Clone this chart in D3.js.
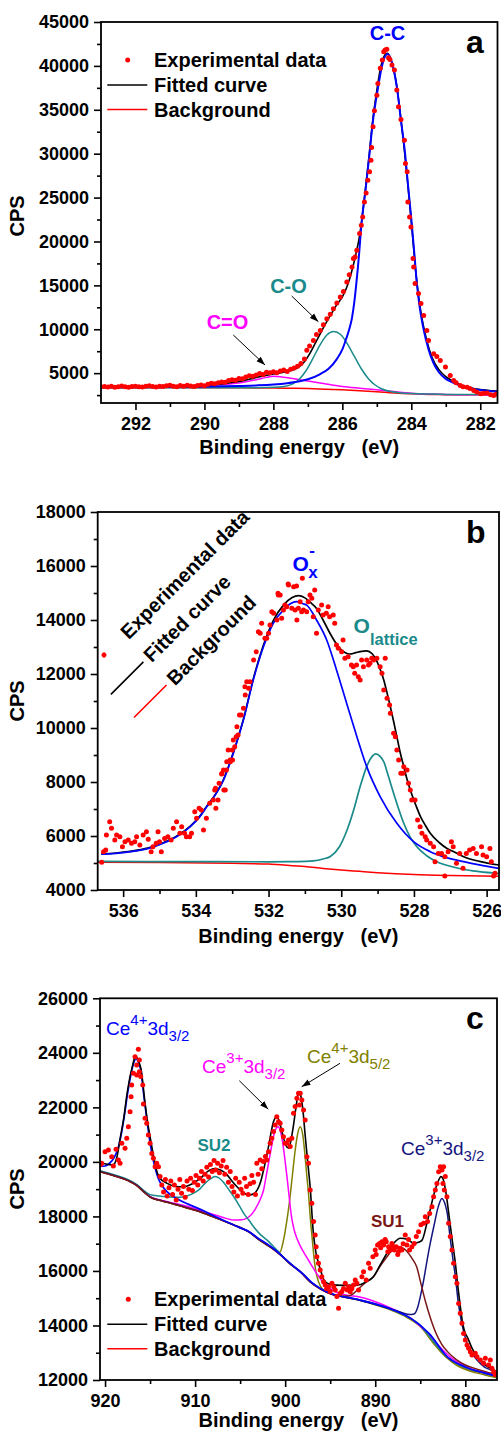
<!DOCTYPE html>
<html>
<head>
<meta charset="utf-8">
<script src="https://cdn.jsdelivr.net/npm/d3@7"></script>
<style>
  body { margin: 0; background: #fff; }
  svg { display: block; }
  text { font-family: "Liberation Sans", Arial, sans-serif; }
</style>
</head>
<body>
<svg id="chart" width="501" height="1433"></svg>
<script>
// ---------- panel a : C 1s ----------
const aXTicks = [292, 290, 288, 286, 284, 282]
const aXMinor = [291, 289, 287, 285, 283]
const aYTicks = [5000, 10000, 15000, 20000, 25000, 30000, 35000, 40000, 45000]
const aYMinor = [2500, 7500, 12500, 17500, 22500, 27500, 32500, 37500, 42500]

const aExp = [
  [293.0,3450],[292.9,3480],[292.8,3420],[292.7,3510],[292.6,3400],[292.5,3460],[292.4,3530],[292.3,3440],[292.2,3390],[292.1,3470],
  [292.0,3520],[291.9,3450],[291.8,3410],[291.7,3500],[291.6,3560],[291.5,3470],[291.4,3430],[291.3,3520],[291.2,3480],[291.1,3560],
  [291.0,3620],[290.9,3500],[290.8,3450],[290.7,3580],[290.6,3520],[290.5,3610],[290.4,3540],[290.3,3490],[290.2,3600],[290.1,3650],
  [290.0,3560],[289.9,3750],[289.8,3850],[289.7,3780],[289.6,3900],[289.5,4000],[289.4,3950],[289.3,4150],[289.2,4250],[289.1,4200],
  [289.0,4400],[288.9,4350],[288.8,4550],[288.7,4700],[288.6,4650],[288.5,4800],[288.4,4950],[288.3,4850],[288.2,5100],[288.1,5050],
  [288.0,5150],[287.9,5050],[287.8,5250],[287.7,5350],[287.6,5200],[287.5,5450],[287.4,5600],[287.3,5800],[287.2,6100],[287.1,6600],
  [287.03,7600],[286.95,8100],[286.84,8730],[286.75,9400],[286.64,9870],[286.55,10500],[286.45,11200],[286.35,11700],[286.26,12350],
  [286.16,13000],[286.06,13670],[285.97,14300],[285.87,15380],[285.8,16200],[285.72,17090],[285.68,18050],[285.63,18230],
  [285.58,19000],[285.5,20900],[285.45,21850],[285.41,22800],[285.36,24500],[285.31,25530],[285.26,26980],[285.21,27930],
  [285.17,29260],[285.15,30710],[285.11,33060],[285.07,34890],[285.0,36670],[284.97,38000],[284.9,39720],[284.84,40670],
  [284.8,41610],[284.76,41810],[284.71,41890],[284.66,40930],[284.62,40740],[284.56,40100],[284.49,39530],[284.42,37240],
  [284.37,35340],[284.3,33900],[284.2,31540],[284.17,28890],[284.12,27930],[284.1,24500],[284.05,22800],[284.01,21650],
  [283.95,18050],[283.93,17090],[283.89,15200],[283.79,14060],[283.72,12920],[283.64,11580],[283.55,9870],[283.5,8730],
  [283.35,7220],[283.26,6910],[283.16,6450],[283.01,5690],[282.87,4740],[282.77,4170],[282.7,3900],[282.58,3600],[282.5,3450],
  [282.38,3400],[282.3,3250],[282.19,3030],[282.1,2850],[281.99,2650],[281.9,2700],[281.8,2730],[281.7,2550],[281.61,2460],[281.55,2600]
]
const aFit = [
  [293,3420],[291,3470],[290,3600],[289.5,3780],[289,4050],[288.5,4500],[288,4900],[287.6,5200],[287.3,5600],[287.1,6300],
  [286.95,7200],[286.8,8300],[286.64,9500],[286.45,10900],[286.3,11900],[286.16,12800],[286.0,13700],[285.9,14500],[285.8,15600],
  [285.7,17000],[285.6,18700],[285.52,20200],[285.45,22000],[285.33,26000],[285.22,29900],[285.12,33700],[285.0,37200],
  [284.9,39600],[284.8,41000],[284.69,41430],[284.58,40600],[284.45,38400],[284.33,34900],[284.22,31100],[284.12,27300],
  [284.03,23500],[283.95,20000],[283.87,16500],[283.78,13500],[283.68,11000],[283.55,8700],[283.4,6800],[283.2,5400],
  [283.0,4600],[282.77,4050],[282.5,3550],[282.19,3250],[281.8,3050],[281.5,2950]
]
const aBg = [
  [293,3380],[291,3360],[289,3330],[288,3300],[287.5,3280],[287,3240],[286.5,3180],[286,3100],[285.5,3000],[285,2880],
  [284.5,2740],[284,2640],[283.5,2580],[283,2550],[282,2530],[281.5,2520]
]
const aCC = [
  [293,3380],[291,3420],[290,3460],[289,3540],[288.5,3600],[288,3700],[287.6,3850],[287.2,4100],[287.0,4300],[286.64,4900],
  [286.4,5500],[286.16,6600],[286.0,7700],[285.89,8900],[285.8,10000],[285.72,11300],[285.65,13200],[285.6,15000],[285.52,18300],
  [285.45,21800],[285.33,25800],[285.22,29700],[285.12,33500],[284.97,37400],[284.85,40000],[284.69,41350],[284.55,40200],
  [284.42,37600],[284.3,33800],[284.18,30000],[284.1,26600],[284.0,22600],[283.92,19000],[283.84,15300],[283.76,12600],
  [283.66,10300],[283.5,7700],[283.35,6100],[283.2,5100],[283.0,4350],[282.77,3900],[282.5,3500],[282.19,3200],[281.8,3000],[281.5,2880]
]
const aCO = [
  [293,3330],[290,3330],[288.5,3350],[288,3380],[287.7,3480],[287.45,3750],[287.25,4300],[287.05,5300],[286.85,6700],
  [286.65,8200],[286.45,9350],[286.25,9750],[286.05,9400],[285.85,8300],[285.65,6900],[285.45,5500],[285.25,4400],
  [285.05,3650],[284.85,3200],[284.6,2900],[284.3,2750],[284.0,2680],[283.5,2620],[283,2580],[281.5,2560]
]
const aCdO = [
  [293,3400],[291,3420],[290.5,3460],[290,3560],[289.5,3700],[289,3880],[288.5,4250],[288.2,4520],[288,4650],[287.8,4600],
  [287.5,4420],[287.2,4220],[287,4100],[286.6,3850],[286.3,3650],[286,3480],[285.5,3280],[285,3100],[284.5,2900],[284,2720],
  [283.5,2620],[283,2560],[282,2530],[281.5,2520]
]

// ---------- panel b : O 1s ----------
const bXTicks = [536, 534, 532, 530, 528, 526]
const bXMinor = [535, 533, 531, 529, 527]
const bYTicks = [4000, 6000, 8000, 10000, 12000, 14000, 16000, 18000]
const bYMinor = [5000, 7000, 9000, 11000, 13000, 15000, 17000]

const bExp = [
  [536.59,5025],[536.54,5418],[536.48,5480],[536.46,6036],[536.37,6530],[536.32,6284],[536.23,5850],[536.18,6036],[536.09,5973],
  [536.02,5603],[535.95,5788],[535.86,5850],[535.77,5727],[535.68,5788],[535.63,5973],[535.54,5665],[535.45,6036],[535.36,6158],
  [535.31,5876],[535.23,5418],[535.18,5603],[535.09,5727],[535.04,6158],[535.0,5788],[534.95,5418],[534.86,5912],[534.77,5973],
  [534.68,5850],[534.62,6284],[534.53,6530],[534.44,6099],[534.39,6344],[534.31,6099],[534.26,5973],[534.17,5973],[534.12,6099],
  [534.03,6900],[533.98,6654],[533.91,7024],[533.85,6962],[533.79,6222],[533.71,6654],[533.62,7210],[533.52,7333],[533.48,7703],
  [533.46,7765],[533.45,7024],[533.39,7333],[533.36,7951],[533.29,8296],[533.28,8321],[533.24,8444],[533.23,7703],[533.19,7703],
  [533.16,8444],[533.15,8751],[533.11,9185],[533.06,8814],[533.05,8751],[533.0,9185],[532.99,8814],[532.97,9556],[532.93,9308],
  [532.89,9679],[532.87,10049],[532.84,9740],[532.8,10481],[532.75,10481],[532.69,10728],[532.65,11530],[532.64,11222],
  [532.6,11715],[532.55,11469],[532.51,11715],[532.41,12518],[532.34,12826],[532.28,13567],[532.23,13507],[532.19,13877],
  [532.1,13322],[532.05,13322],[532.0,13507],[531.96,13815],[531.91,14308],[531.86,14247],[531.77,14000],[531.74,14988],
  [531.73,14926],[531.68,14926],[531.64,14062],[531.59,14370],[531.55,14555],[531.5,14493],[531.46,15333],[531.45,15296],
  [531.36,14433],[531.31,15234],[531.27,14370],[531.23,15259],[531.22,14000],[531.18,14433],[531.13,14678],[531.09,14308],
  [531.07,15543],[531.04,14370],[530.95,14308],[530.91,14678],[530.86,14926],[530.81,14802],[530.77,14122],[530.73,15111],
  [530.68,13507],[530.63,14370],[530.54,14555],[530.5,14185],[530.41,14247],[530.36,14493],[530.32,14122],[530.22,14185],
  [530.18,13877],[530.13,13074],[530.08,12951],[529.99,12826],[529.95,13259],[529.9,12580],[529.81,12641],[529.72,12333],
  [529.67,12271],[529.63,12025],[529.58,12333],[529.53,11900],[529.48,11777],[529.44,12518],[529.39,12271],[529.3,12518],
  [529.25,12333],[529.21,12395],[529.16,12580],[529.11,12518],[529.02,12580],[528.93,12271],[528.88,12025],[528.83,11407],
  [528.79,12580],[528.74,11099],[528.67,10852],[528.65,10543],[528.56,9803],[528.51,9679],[528.47,9185],[528.42,8814],
  [528.36,8321],[528.3,8321],[528.28,8566],[528.19,8444],[528.15,7951],[528.1,7703],[528.06,7333],[527.97,7333],[527.9,6592],
  [527.83,6344],[527.78,6099],[527.69,5973],[527.65,5850],[527.55,5727],[527.46,5603],[527.42,5048],[527.33,5356],[527.24,5356],
  [527.15,5233],[527.15,4517],[527.06,5418],[526.97,5788],[526.92,5603],[526.83,4988],[526.74,5356],[526.65,4803],[526.56,5356],
  [526.47,5480],[526.37,5541],[526.28,5356],[526.14,5603],[526.1,5295],[526.0,5233],[525.91,5541],[525.87,5048],[525.81,4517],[525.77,4617]
]
const bFit = [
  [536.6,5340],[536.2,5370],[535.8,5430],[535.3,5560],[534.9,5750],[534.5,6020],[534.16,6360],[533.9,6720],[533.7,7100],
  [533.45,7570],[533.24,8090],[532.97,9090],[532.69,10330],[532.42,11820],[532.14,13070],[531.87,13980],[531.59,14550],
  [531.35,14830],[531.18,14900],[531.0,14820],[530.85,14650],[530.68,14430],[530.5,14000],[530.31,13510],[530.15,13150],
  [530.04,12950],[529.9,12800],[529.76,12740],[529.6,12790],[529.48,12830],[529.3,12860],[529.15,12750],[529.06,12580],
  [528.95,12250],[528.83,11780],[528.74,11300],[528.65,10790],[528.56,10250],[528.47,9680],[528.38,9100],[528.28,8570],
  [528.19,8100],[528.1,7700],[527.95,7150],[527.82,6720],[527.68,6380],[527.55,6100],[527.3,5750],[527.09,5540],[526.85,5380],
  [526.63,5230],[526.2,5060],[525.66,4925]
]
const bBg = [
  [536.7,5030],[535,5020],[533,4990],[532,4960],[531.5,4920],[531,4870],[530.5,4800],[530,4740],[529.5,4690],[529,4640],
  [528.5,4600],[528,4570],[527,4535],[525.66,4510]
]
const bOx = [
  [536.6,5330],[536.2,5360],[535.8,5420],[535.3,5540],[534.9,5730],[534.5,6000],[534.16,6340],[533.9,6700],[533.7,7080],
  [533.45,7550],[533.24,8070],[532.97,9060],[532.69,10300],[532.42,11780],[532.14,13010],[531.87,13880],[531.59,14370],
  [531.4,14600],[531.23,14680],[531.05,14600],[530.95,14550],[530.68,14000],[530.4,13260],[530.13,12150],[529.85,10910],
  [529.57,9680],[529.3,8570],[528.93,7460],[528.47,6470],[528.01,5790],[527.55,5420],[527.1,5200],[526.63,5050],[526.2,4930],[525.66,4800]
]
const bOlat = [
  [536.7,5060],[534,5050],[532,5045],[531.2,5050],[530.77,5080],[530.5,5150],[530.3,5240],[530.05,5600],[529.84,6220],
  [529.65,7000],[529.48,7830],[529.3,8570],[529.15,8950],[529.05,9040],[528.93,8950],[528.83,8750],[528.7,8200],[528.56,7580],
  [528.42,7000],[528.28,6470],[528.1,5950],[527.92,5600],[527.65,5270],[527.37,5050],[527,4880],[526.66,4770],[526.2,4680],[525.66,4610]
]

// ---------- panel c : Ce 3d ----------
const cXTicks = [920, 910, 900, 890, 880]
const cXMinor = [915, 905, 895, 885]
const cYTicks = [12000, 14000, 16000, 18000, 20000, 22000, 24000, 26000]
const cYMinor = [13000, 15000, 17000, 19000, 21000, 23000, 25000]

const cExp = [
  [920.5,19900],[920.37,19950],[920.0,20370],[919.63,20440],[919.26,20190],[919.08,19850],[918.78,20460],[918.52,20070],
  [918.33,19950],[918.14,20680],[917.78,20500],[917.59,20870],[917.41,21290],[917.22,21840],[917.11,22390],[917.04,22820],
  [916.85,23250],[916.67,23860],[916.48,23550],[916.48,23190],[916.3,24130],[916.19,23740],[916.19,23310],[916.04,23130],
  [915.81,22820],[915.74,22120],[915.56,21600],[915.37,21420],[915.19,20990],[915.0,20680],[914.81,20310],[914.63,20130],
  [914.44,19820],[914.26,19950],[914.07,19820],[913.89,19460],
  [913.7,19150],[913.5,18900],[913.3,19350],[913.1,18750],[912.9,19050],[912.7,19300],[912.5,18800],[912.3,19150],[912.1,18600],
  [911.9,19000],[911.7,19350],[911.5,18850],[911.3,19100],[911.1,18700],[910.9,19300],[910.7,19000],[910.5,19400],[910.3,18950],
  [910.1,19250],[909.9,19500],[909.7,19150],[909.5,19400],[909.3,19650],[909.1,19300],[908.9,19550],[908.7,19800],[908.5,19450],
  [908.3,19900],[908.1,19650],[907.9,20050],[907.7,19700],[907.5,19950],[907.3,19600],[907.1,19850],[906.9,20050],[906.7,19550],
  [906.5,19800],[906.3,19250],[906.1,19650],[905.9,19100],[905.7,18900],[905.5,19400],[905.3,18750],[905.1,19250],[904.9,19000],
  [904.7,18850],[904.5,19400],[904.3,19100],[904.1,18800],[903.9,19200],[903.7,19500],[903.5,19250],[903.3,18800],[903.15,19950],
  [903.0,19550],[902.78,20070],[902.6,19750],[902.41,20010],[902.2,20200],[902.04,20070],[901.85,20370],[901.67,20680],
  [901.48,20870],[901.3,21110],[901.11,21350],[900.93,21660],[900.74,21470],[900.56,21420],[900.37,21170],[900.19,20920],
  [900.0,20680],[899.81,20680],[899.63,20800],[899.44,20560],[899.26,20870],[899.07,21780],[898.89,22030],[898.7,22330],
  [898.52,22520],[898.41,22090],[898.33,22520],[898.15,22270],[897.96,21900],[897.78,21540],[897.59,20190],[897.41,19950],
  [897.22,18970],[897.04,18480],[896.85,17810],[896.67,17320],[896.56,16890],[896.48,16520],[896.3,16280],[896.11,16030],
  [895.93,15790],[895.74,15600],[895.56,15480],[895.4,15350],[895.19,15420],[895.0,15250],[894.81,15550],[894.6,15420],
  [894.44,15300],[894.26,15060],[894.07,14630],[893.89,15180],[893.7,15250],[893.52,15360],[893.33,15550],[893.1,15300],
  [892.96,15420],[892.78,15240],[892.6,15350],[892.41,15480],[892.22,15670],[892.04,15550],[891.85,15300],[891.48,15790],
  [891.3,15970],[891.0,15670],[890.74,16280],[890.56,16100],[890.26,16520],[890.0,16770],[889.9,16600],[889.74,16950],
  [889.52,17010],[889.4,16850],[889.26,17070],[889.07,16950],[888.9,17150],[888.78,17070],[888.6,16700],[888.52,16890],
  [888.33,16770],[888.15,17010],[888.0,16900],[887.89,16770],[887.67,16890],[887.5,16600],[887.41,16710],[887.22,16830],
  [887.04,16770],[886.9,17000],[886.67,17320],[886.48,16950],[886.3,17150],[886.19,16770],[885.93,16890],[885.67,17010],
  [885.44,17260],[885.19,17440],[884.93,17690],[884.63,17750],[884.44,17990],[884.19,17810],[883.96,18110],[883.7,18350],
  [883.52,18720],[883.33,18970],[883.15,19210],[882.96,19640],[882.78,19820],[882.59,19700],[882.48,19210],[882.41,19820],
  [882.33,18970],[882.22,19460],[882.04,18720],[881.85,17750],[881.67,17260],[881.48,16770],[881.3,16280],[881.11,15790],
  [880.93,15550],[880.74,14810],[880.56,14450],[880.37,14080],[880.19,13710],[880.0,13470],[879.81,13280],[879.63,13160],
  [879.44,13040],[879.26,12920],[878.89,12980],[878.7,12850],[878.33,12730],[877.96,12610],[877.78,12800],[877.41,12550],
  [877.22,12730],[877.04,12430],[876.85,12300],[876.67,12190]
]
const cFit = [
  [920.56,19950],[920.0,19930],[919.5,19900],[919.1,19890],[918.7,20150],[918.3,20900],[917.9,21650],[917.6,22400],[917.3,23000],
  [917.0,23450],[916.75,23780],[916.56,23860],[916.3,23700],[916.0,23400],[915.6,22270],[915.3,21500],[915.0,20920],[914.6,20190],
  [914.2,19600],[913.9,19400],[913.1,19210],[912.2,19100],[911.3,19090],[910.3,19200],[909.4,19400],[908.6,19650],[907.8,19760],
  [907.2,19700],[906.6,19580],[905.8,19250],[905.0,18970],[904.4,18820],[903.9,18790],[903.4,18850],[903.1,18970],[902.7,19300],
  [902.4,19700],[902.1,20150],[901.85,20560],[901.55,21100],[901.3,21470],[900.9,21660],[900.5,21300],[900.2,20900],[899.9,20600],
  [899.6,20500],[899.35,20800],[899.1,21290],[898.8,22000],[898.5,22570],[898.25,22400],[898.0,21800],[897.8,21050],[897.5,20000],
  [897.2,18970],[896.9,17500],[896.6,16700],[896.3,16280],[896.0,15950],[895.7,15670],[895.2,15530],[894.3,15480],[893.0,15470],
  [892.0,15480],[891.0,15600],[890.2,15790],[889.4,16250],[888.7,16650],[888.0,17000],[887.2,17200],[886.4,17150],[885.7,17010],
  [885.2,17050],[884.8,17130],[884.3,17700],[883.9,18240],[883.5,18800],[883.1,19210],[882.7,19460],[882.5,19400],[882.2,18970],
  [881.95,18400],[881.7,17750],[881.4,17000],[881.1,16280],[880.85,15500],[880.6,14810],[880.3,14100],[880.0,13700],[879.8,13590],
  [879.3,13200],[878.7,12850],[878.0,12600],[877.2,12430],[876.5,12300]
]
const cBg = [
  [920.56,19650],[919,19500],[917.5,19330],[916.5,19150],[915.5,18850],[915,18720],[914,18600],[913,18520],[911,18330],
  [909.4,18170],[907.5,17930],[905.7,17690],[904,17430],[902.8,17130],[901.5,16850],[900.5,16590],[899.4,16250],[898.3,15970],
  [897.2,15600],[896,15330],[895,15170],[894,15080],[892,14950],[890,14780],[888,14560],[886.5,14330],[885,14000],[883.5,13380],
  [882.2,12900],[881,12600],[879.5,12380],[878,12250],[876.5,12120]
]
const cCe4a = [
  [920.56,19830],[920.0,19850],[919.5,19950],[919.0,20150],[918.6,20450],[918.3,20850],[917.9,21600],[917.5,22500],[917.1,23250],
  [916.8,23650],[916.56,23800],[916.3,23650],[916.0,23300],[915.7,22450],[915.3,21400],[915.0,20700],[914.6,20000],[914.1,19400],
  [913.6,19100],[913.1,18900],[912.0,18650],[911.0,18480],[910.0,18340],[909.0,18200],[908.0,18030],[907.0,17880],[906.0,17730],
  [905.0,17580],[904.0,17440],[903.0,17200],[902.0,16990],[901.0,16740],[900.0,16440],[899.0,16150],[898.0,15880],[897.0,15560],
  [896.0,15340],[895.0,15180],[894.0,15090],[892.0,14960],[890.0,14790],[888.0,14570],[886.0,14250],[884.0,13700],[882.0,12850],
  [880.0,12480],[878.0,12270],[876.5,12140]
]
const cSU2 = [
  [920.56,19680],[919,19530],[917.5,19360],[916.5,19180],[915.5,18900],[915,18800],[914,18750],[913,18720],[912,18700],
  [911.3,18720],[910.5,18800],[910,18880],[909.4,19030],[908.8,19250],[908.3,19380],[907.8,19460],[907.3,19400],[906.9,19270],
  [906.3,19000],[905.7,18720],[905.1,18400],[904.6,18110],[904,17850],[903.5,17620],[902.8,17350],[902,17130],[901.3,16900],
  [900.6,16650],[899.8,16380],[899.4,16260],[898.3,15980],[897.2,15610],[896,15340],[895,15180],[894,15090],[892,14960],
  [890,14790],[888,14570],[886.5,14340],[885,14010],[883.5,13390],[882.2,12910],[881,12610],[879.5,12390],[878,12260],[876.5,12130]
]
const cCe3a = [
  [920.56,19660],[919,19500],[917.5,19330],[916.5,19150],[915.5,18860],[915,18730],[914,18610],[913,18530],[911,18380],
  [909.4,18220],[908.3,18110],[907,17970],[905.7,17870],[904.8,17880],[904.3,17930],[903.8,18050],[903.3,18280],[902.8,18600],
  [902.4,18970],[902.1,19500],[901.85,19950],[901.55,20500],[901.3,20920],[901.05,21200],[900.8,21290],[900.55,21150],
  [900.3,20750],[900.05,20150],[899.8,19460],[899.55,18700],[899.3,18000],[899.0,17500],[898.7,17200],[898.3,16900],
  [897.7,16550],[897.2,16280],[896.5,15900],[895.7,15550],[894.5,15250],[893,15100],[892,15060],[890,14870],[888,14600],
  [886,14250],[884,13650],[882.5,13100],[881,12680],[879.5,12420],[878,12300],[876.5,12180]
]
const cCe4b = [
  [920.56,19640],[919,19490],[917.5,19320],[916.5,19140],[915.5,18840],[915,18710],[914,18590],[913,18510],[911,18320],
  [909.4,18160],[907.5,17920],[905.7,17680],[904,17420],[902.8,17120],[901.5,16850],[901,16760],[900.6,16680],[900.2,17100],
  [899.8,17870],[899.5,18600],[899.2,19500],[898.9,20400],[898.6,21050],[898.33,21290],[898.05,21000],[897.8,20250],
  [897.6,19500],[897.4,18800],[897.2,17900],[897.0,17200],[896.8,16500],[896.6,16000],[896.3,15600],[896.0,15400],
  [895.5,15250],[895,15170],[894,15080],[892,14940],[890,14760],[888,14530],[886.5,14300],[885,13960],[883.5,13330],
  [882.2,12850],[881,12550],[879.5,12330],[878,12200],[876.5,12080]
]
const cSU1 = [
  [920.56,19640],[919,19490],[917.5,19320],[916.5,19140],[915.5,18840],[915,18710],[914,18590],[913,18510],[911,18320],
  [909.4,18160],[907.5,17920],[905.7,17680],[904,17420],[902.8,17120],[901.5,16840],[900.5,16580],[899.4,16240],[898.3,15960],
  [897.2,15590],[896,15320],[895,15160],[894,15080],[893,15080],[892.5,15150],[892,15300],[891,15600],[890.2,15790],
  [889.5,16150],[888.7,16520],[888,16800],[887.4,16890],[886.6,16760],[885.9,16450],[885.4,16150],[884.9,15500],[884.4,14850],
  [883.9,14300],[883.3,13750],[882.6,13300],[882,13050],[881,12750],[880,12550],[878.7,12400],[877.5,12280],[876.5,12200]
]
const cCe3b = [
  [920.56,19650],[919,19500],[917.5,19330],[916.5,19150],[915.5,18850],[915,18720],[914,18600],[913,18520],[911,18330],
  [909.4,18170],[907.5,17930],[905.7,17690],[904,17430],[902.8,17130],[901.5,16850],[900.5,16590],[899.4,16250],[898.3,15970],
  [897.2,15600],[896,15330],[895,15170],[894,15080],[892,14950],[891,14860],[890,14770],[889,14680],[888,14580],[887,14470],
  [886.2,14400],[885.7,14420],[885.3,14650],[885,15050],[884.6,15700],[884.3,16280],[883.9,17000],[883.5,17620],[883.0,18360],
  [882.6,18660],[882.2,18400],[882.0,18110],[881.7,17260],[881.4,16500],[881.1,15790],[880.8,14900],[880.6,14450],[880.2,13800],
  [879.8,13350],[879.3,13000],[878.7,12730],[877.9,12480],[877.2,12370],[876.5,12250]
]

const legendLabels = ['Experimental data', 'Fitted curve', 'Background']

const RED = '#ff0000'
const BLUE = '#0000ff'
const TEAL = '#1a8a8a'
const MAGENTA = '#ff00ff'
const OLIVE = '#808000'
const NAVY = '#14147f'
const MAROON = '#7a1616'

const svg = d3.select('#chart')

// arrow head for the label pointers
svg.append('defs').append('marker')
  .attr('id', 'arrow')
  .attr('markerUnits', 'userSpaceOnUse')
  .attr('viewBox', '0 -4 10 8')
  .attr('refX', 10)
  .attr('refY', 0)
  .attr('markerWidth', 9)
  .attr('markerHeight', 7)
  .attr('orient', 'auto')
  .append('path')
  .attr('d', 'M0,-3.5L10,0L0,3.5Z')
  .attr('fill', '#000')

const panels = [
  {
    id: 'a', left: 101, right: 497.5, top: 22, bottom: 403,
    xDomain: [293, 281.5], yDomain: [1600, 45000],
    xTicks: aXTicks, xMinor: aXMinor, yTicks: aYTicks, yMinor: aYMinor,
    titleDy: 51, cpsY: 216,
    lines: [
      { data: aBg, color: RED },
      { data: aCdO, color: MAGENTA },
      { data: aCO, color: TEAL },
      { data: aFit, color: '#000', w: 1.6 },
      { data: aCC, color: BLUE, w: 2 }
    ],
    dots: aExp
  },
  {
    id: 'b', left: 97.7, right: 499, top: 512, bottom: 890,
    xDomain: [536.7, 525.66], yDomain: [4000, 18000],
    xTicks: bXTicks, xMinor: bXMinor, yTicks: bYTicks, yMinor: bYMinor,
    titleDy: 53, cpsY: 701,
    lines: [
      { data: bBg, color: RED },
      { data: bOlat, color: TEAL, w: 1.7 },
      { data: bFit, color: '#000', w: 1.7 },
      { data: bOx, color: BLUE, w: 1.7 }
    ],
    dots: bExp
  },
  {
    id: 'c', left: 100, right: 497, top: 998.3, bottom: 1380,
    xDomain: [920.56, 876.48], yDomain: [12000, 26000],
    xTicks: cXTicks, xMinor: cXMinor, yTicks: cYTicks, yMinor: cYMinor,
    titleDy: 47, cpsY: 1189,
    lines: [
      { data: cBg, color: RED },
      { data: cCe4b, color: OLIVE },
      { data: cCe3a, color: MAGENTA },
      { data: cSU2, color: TEAL },
      { data: cCe3b, color: NAVY },
      { data: cSU1, color: MAROON },
      { data: cCe4a, color: BLUE, w: 1.7 },
      { data: cFit, color: '#000', w: 1.6 }
    ],
    dots: cExp
  }
]

function drawPanel (p) {
  const x = d3.scaleLinear().domain(p.xDomain).range([p.left, p.right])
  const y = d3.scaleLinear().domain(p.yDomain).range([p.bottom, p.top])
  const g = svg.append('g').attr('class', 'panel-' + p.id)

  svg.select('defs').append('clipPath').attr('id', 'clip-' + p.id)
    .append('rect')
    .attr('x', p.left).attr('y', p.top)
    .attr('width', p.right - p.left).attr('height', p.bottom - p.top)

  const plot = g.append('g').attr('clip-path', `url(#clip-${p.id})`)
  const line = d3.line()
    .x(d => x(d[0]))
    .y(d => y(d[1]))
    .curve(d3.curveMonotoneX)

  p.lines.forEach(s => {
    plot.append('path')
      .datum(s.data)
      .attr('d', line)
      .attr('fill', 'none')
      .attr('stroke', s.color)
      .attr('stroke-width', s.w || 1.5)
  })

  plot.selectAll('.exp')
    .data(p.dots)
    .enter()
    .append('circle')
    .attr('class', 'exp')
    .attr('cx', d => x(d[0]))
    .attr('cy', d => y(d[1]))
    .attr('r', 2.5)
    .attr('fill', RED)

  // axes: major ticks with labels, minor ticks without
  const styleAxis = sel => {
    sel.select('.domain').remove()
    sel.selectAll('line').attr('stroke', '#000').attr('stroke-width', 1.6)
    sel.selectAll('text')
      .attr('fill', '#000')
      .style('font-size', '18px')
      .style('font-weight', 'bold')
      .style('font-family', '"Liberation Sans", Arial, sans-serif')
  }

  g.append('g').attr('transform', `translate(${p.left},0)`)
    .call(d3.axisLeft(y).tickValues(p.yTicks).tickSize(7).tickPadding(5).tickFormat(d3.format('d')))
    .call(styleAxis)
  g.append('g').attr('transform', `translate(${p.left},0)`)
    .call(d3.axisLeft(y).tickValues(p.yMinor).tickSize(4).tickFormat(() => ''))
    .call(styleAxis)
  g.append('g').attr('transform', `translate(0,${p.bottom})`)
    .call(d3.axisBottom(x).tickValues(p.xTicks).tickSize(7).tickPadding(7).tickFormat(d3.format('d')))
    .call(styleAxis)
  g.append('g').attr('transform', `translate(0,${p.bottom})`)
    .call(d3.axisBottom(x).tickValues(p.xMinor).tickSize(4).tickFormat(() => ''))
    .call(styleAxis)

  // frame
  g.append('rect')
    .attr('x', p.left).attr('y', p.top)
    .attr('width', p.right - p.left).attr('height', p.bottom - p.top)
    .attr('fill', 'none')
    .attr('stroke', '#000')
    .attr('stroke-width', 1.8)

  // titles
  g.append('text')
    .attr('x', (p.left + p.right) / 2)
    .attr('y', p.bottom + p.titleDy)
    .attr('text-anchor', 'middle')
    .style('font-size', '20px')
    .style('font-weight', 'bold')
    .style('white-space', 'pre')
    .text('Binding energy   (eV)')

  g.append('text')
    .attr('transform', `translate(24,${p.cpsY}) rotate(-90)`)
    .attr('text-anchor', 'middle')
    .style('font-size', '20px')
    .style('font-weight', 'bold')
    .text('CPS')

  g.append('text')
    .attr('x', 466)
    .attr('y', p.top + 31)
    .style('font-size', '32px')
    .style('font-weight', 'bold')
    .text(p.id)

  return { x, y, g }
}

function flatLegend (g, dotX, dotY) {
  g.append('circle').attr('cx', dotX).attr('cy', dotY).attr('r', 2.5).attr('fill', RED)
  const rows = [dotY, dotY + 25, dotY + 49.5]
  g.append('line').attr('x1', 107.3).attr('x2', 147.3).attr('y1', rows[1]).attr('y2', rows[1])
    .attr('stroke', '#000').attr('stroke-width', 1.6)
  g.append('line').attr('x1', 107.3).attr('x2', 147.3).attr('y1', rows[2]).attr('y2', rows[2])
    .attr('stroke', RED).attr('stroke-width', 1.6)
  legendLabels.forEach((t, i) => {
    g.append('text')
      .attr('x', 154)
      .attr('y', rows[i] + 7)
      .style('font-size', '20px')
      .style('font-weight', 'bold')
      .text(t)
  })
}

function label (g, x, y, color, size, parts, weight) {
  const t = g.append('text')
    .attr('x', x).attr('y', y)
    .attr('fill', color)
    .style('font-size', size + 'px')
    .style('font-weight', weight || 'bold')
  parts.forEach(pt => {
    t.append('tspan')
      .attr('dy', pt.dy || 0)
      .style('font-size', (pt.size || size) + 'px')
      .text(pt.t)
  })
  return t
}

function pointer (g, x1, y1, x2, y2) {
  g.append('line')
    .attr('x1', x1).attr('y1', y1).attr('x2', x2).attr('y2', y2)
    .attr('stroke', '#000').attr('stroke-width', 1)
    .attr('marker-end', 'url(#arrow)')
}

// ----- panel a -----
const pa = drawPanel(panels[0])
flatLegend(pa.g, 127.7, 60)
label(pa.g, 387.5, 40, BLUE, 20, [{ t: 'C-C' }]).attr('text-anchor', 'middle')
label(pa.g, 288.5, 293, TEAL, 20, [{ t: 'C-O' }]).attr('text-anchor', 'middle')
label(pa.g, 227.5, 329, MAGENTA, 20, [{ t: 'C=O' }]).attr('text-anchor', 'middle')
pointer(pa.g, 291.7, 296, 318.3, 321.7)
pointer(pa.g, 233.3, 335, 265, 365)

// ----- panel b -----
const pb = drawPanel(panels[1])
const lg = pb.g.append('g').attr('transform', 'translate(104,655) rotate(-45)')
lg.append('circle').attr('cx', 0).attr('cy', 0).attr('r', 2.5).attr('fill', RED)
lg.append('line').attr('x1', -23).attr('x2', 23).attr('y1', 32.7).attr('y2', 32.7)
  .attr('stroke', '#000').attr('stroke-width', 1.6)
lg.append('line').attr('x1', -23).attr('x2', 23).attr('y1', 65.4).attr('y2', 65.4)
  .attr('stroke', RED).attr('stroke-width', 1.6)
legendLabels.forEach((t, i) => {
  lg.append('text')
    .attr('x', 28)
    .attr('y', i * 32.7 + 7)
    .style('font-size', '20px')
    .style('font-weight', 'bold')
    .text(t)
})
label(pb.g, 292.5, 571, BLUE, 21, [{ t: 'O' }])
label(pb.g, 308.3, 578, BLUE, 17, [{ t: 'x' }])
label(pb.g, 309.3, 556, BLUE, 17, [{ t: '-' }])
label(pb.g, 353.5, 633, TEAL, 21, [{ t: 'O' }])
label(pb.g, 370, 645, TEAL, 16.5, [{ t: 'lattice' }])

// ----- panel c -----
const pc = drawPanel(panels[2])
flatLegend(pc.g, 128.3, 1299.3)
const ceParts = (sup, sub) => [
  { t: 'Ce' },
  { t: sup, size: 15, dy: -10 },
  { t: '3d', size: 19, dy: 10 },
  { t: sub, size: 15, dy: 6 }
]
label(pc.g, 106, 1035, BLUE, 19, ceParts('4+', '3/2'), 'normal')
label(pc.g, 202, 1073, MAGENTA, 19, ceParts('3+', '3/2'), 'normal')
label(pc.g, 307, 1063, OLIVE, 19, ceParts('4+', '5/2'), 'normal')
label(pc.g, 401, 1155, NAVY, 19, ceParts('3+', '3/2'), 'normal')
label(pc.g, 214, 1151, TEAL, 17, [{ t: 'SU2' }]).attr('text-anchor', 'middle')
label(pc.g, 387.5, 1227, MAROON, 17, [{ t: 'SU1' }]).attr('text-anchor', 'middle')
pointer(pc.g, 239.3, 1080.7, 268.3, 1109.3)
pointer(pc.g, 340, 1063.3, 301.7, 1086.7)
</script>
</body>
</html>
